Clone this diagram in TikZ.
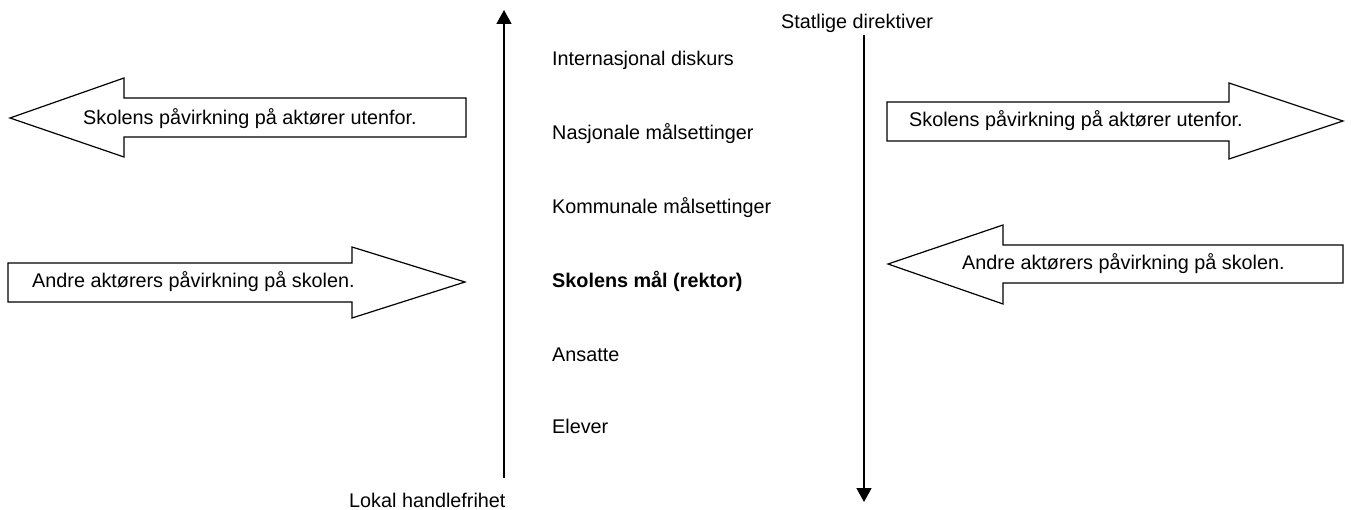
\documentclass[tikz,border=0pt]{standalone}
\usepackage{fontspec}
\setmainfont{Liberation Sans}
\usetikzlibrary{arrows.meta}
\begin{document}
\begin{tikzpicture}[x=1pt,y=-1pt,
  lbl/.style={anchor=base west,inner sep=0pt,font=\fontsize{19.8pt}{22pt}\selectfont},
  bigarrow/.style={draw=black,line width=1.2pt,fill=white,line join=miter},
  vline/.style={line width=1.6pt,-{Triangle[width=15pt,length=14pt]}}]
\useasboundingbox (0,0) rectangle (1351,510);
% left upper arrow (pointing left)
\draw[bigarrow] (10,118) -- (124,78) -- (124,98) -- (466,98) -- (466,137) -- (124,137) -- (124,157) -- cycle;
\node[lbl] (t1) at (83,125) {Skolens påvirkning på aktører utenfor.};
% left lower arrow (pointing right)
\draw[bigarrow] (8,263) -- (352,263) -- (352,247) -- (465,282) -- (352,318) -- (352,302) -- (8,302) -- cycle;
\node[lbl] (t2) at (32,288) {Andre aktørers påvirkning på skolen.};
% right upper arrow (pointing right)
\draw[bigarrow] (887,102) -- (1229,102) -- (1229,83) -- (1343,121) -- (1229,159) -- (1229,141) -- (887,141) -- cycle;
\node[lbl] (t3) at (909,127) {Skolens påvirkning på aktører utenfor.};
% right lower arrow (pointing left)
\draw[bigarrow] (888,264) -- (1003,225) -- (1003,245) -- (1343,245) -- (1343,283) -- (1003,283) -- (1003,304) -- cycle;
\node[lbl] (t4) at (962,270) {Andre aktørers påvirkning på skolen.};
% vertical arrows
\coordinate (lb) at (504,478);
\coordinate (lt) at (504,10);
\draw[vline] (lb) -- (lt);
\coordinate (rt) at (864,35);
\coordinate (rb) at (864,502);
\draw[vline] (rt) -- (rb);
\node[lbl] (lok) at (349,507) {Lokal handlefrihet};
\node[lbl] (stat) at (781,29) {Statlige direktiver};
% levels
\node[lbl] (l1) at (552,66) {Internasjonal diskurs};
\node[lbl] (l2) at (552,140) {Nasjonale målsettinger};
\node[lbl] (l3) at (552,214) {Kommunale målsettinger};
\node[lbl,font=\fontsize{19.8pt}{22pt}\selectfont\bfseries] (l4) at (552,288) {Skolens mål (rektor)};
\node[lbl] (l5) at (552,361) {Ansatte};
\node[lbl] (l6) at (552,433) {Elever};
\end{tikzpicture}
\end{document}
